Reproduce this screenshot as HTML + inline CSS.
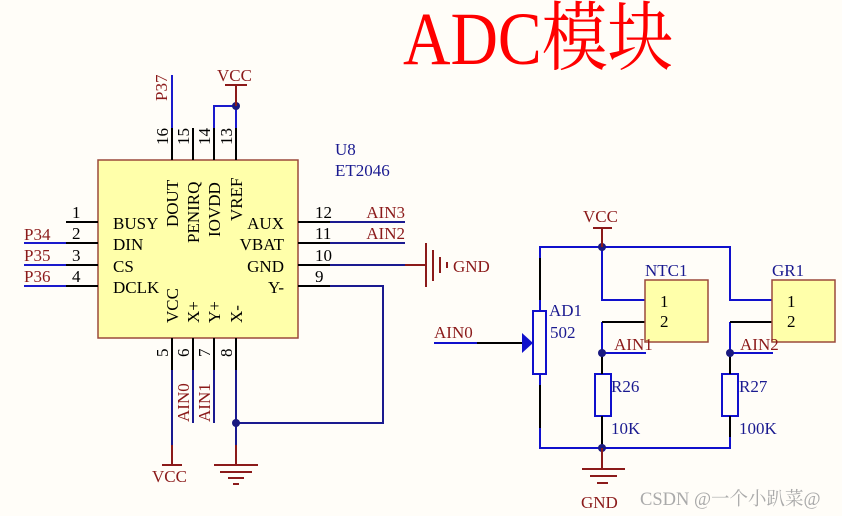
<!DOCTYPE html>
<html><head><meta charset="utf-8"><style>
html,body{margin:0;padding:0;background:#FFFDF8;}
svg{display:block;}
text{font-family:"Liberation Serif","Noto Serif CJK SC",serif;}
</style></head><body>
<svg width="842" height="516" viewBox="0 0 842 516" xmlns="http://www.w3.org/2000/svg">
<rect width="842" height="516" fill="#FFFDF8"/>
<!-- Title -->
<text transform="translate(403,64) scale(1.06,1.22)" font-size="62" fill="#FF0000" font-family="Liberation Serif, Noto Serif CJK SC, serif">ADC模块</text>

<!-- IC -->
<rect x="98" y="160" width="200" height="178" fill="#FFFFAA" stroke="#9B4A3A" stroke-width="1.5"/>
<g stroke="#000" stroke-width="2">
 <line x1="172" y1="160" x2="172" y2="128"/><line x1="193" y1="160" x2="193" y2="128"/>
 <line x1="214" y1="160" x2="214" y2="128"/><line x1="236" y1="160" x2="236" y2="128"/>
 <line x1="66" y1="222" x2="98" y2="222"/><line x1="66" y1="243" x2="98" y2="243"/>
 <line x1="66" y1="265" x2="98" y2="265"/><line x1="66" y1="286" x2="98" y2="286"/>
 <line x1="298" y1="222" x2="330" y2="222"/><line x1="298" y1="243" x2="330" y2="243"/>
 <line x1="298" y1="265" x2="330" y2="265"/><line x1="298" y1="286" x2="330" y2="286"/>
 <line x1="172" y1="338" x2="172" y2="370"/><line x1="193" y1="338" x2="193" y2="370"/>
 <line x1="214" y1="338" x2="214" y2="370"/><line x1="236" y1="338" x2="236" y2="370"/>
</g>
<g stroke="#1a1acc" stroke-width="2" fill="none">
 <line x1="172" y1="128" x2="172" y2="75"/>
 <polyline points="214,128 214,106 236,106 236,128"/>
 <line x1="24" y1="243" x2="66" y2="243"/><line x1="24" y1="265" x2="66" y2="265"/><line x1="24" y1="286" x2="66" y2="286"/>
</g>
<g stroke="#1a1a90" stroke-width="2" fill="none">
 <line x1="330" y1="222" x2="405" y2="222"/><line x1="330" y1="243" x2="405" y2="243"/>
 <line x1="330" y1="265" x2="405" y2="265"/>
 <polyline points="330,286 383,286 383,423 236,423"/>
 <line x1="172" y1="370" x2="172" y2="445"/><line x1="193" y1="370" x2="193" y2="423"/>
 <line x1="214" y1="370" x2="214" y2="423"/><line x1="236" y1="370" x2="236" y2="445"/>
</g>
<circle cx="236" cy="106" r="4" fill="#1a1a80"/>
<circle cx="236" cy="423" r="4" fill="#1a1a80"/>
<g stroke="#8B1A1A" stroke-width="2">
 <line x1="236" y1="106" x2="236" y2="85"/><line x1="225" y1="85" x2="247" y2="85"/>
 <line x1="405" y1="265" x2="426" y2="265"/>
 <line x1="426" y1="243" x2="426" y2="287"/><line x1="433" y1="250" x2="433" y2="281"/>
 <line x1="440" y1="257" x2="440" y2="273"/><line x1="447" y1="262" x2="447" y2="268"/>
 <line x1="172" y1="445" x2="172" y2="465"/><line x1="162" y1="465" x2="182" y2="465"/>
 <line x1="236" y1="445" x2="236" y2="465"/>
 <line x1="214" y1="465" x2="258" y2="465"/><line x1="220" y1="472" x2="252" y2="472"/>
 <line x1="228" y1="478" x2="244" y2="478"/><line x1="233" y1="484" x2="239" y2="484"/>
</g>
<g font-size="17" fill="#8B1A1A">
 <text x="217" y="81">VCC</text>
 <text x="453" y="272">GND</text>
 <text x="152" y="482">VCC</text>
 <text transform="translate(167,101) rotate(-90)">P37</text>
 <text x="24" y="240">P34</text><text x="24" y="261">P35</text><text x="24" y="282">P36</text>
 <text x="405" y="218" text-anchor="end">AIN3</text><text x="405" y="239" text-anchor="end">AIN2</text>
 <text transform="translate(189,422) rotate(-90)">AIN0</text>
 <text transform="translate(210,422) rotate(-90)">AIN1</text>
</g>
<g font-size="17" fill="#000">
 <text x="72" y="218">1</text><text x="72" y="239">2</text><text x="72" y="261">3</text><text x="72" y="282">4</text>
 <text x="315" y="218">12</text><text x="315" y="239">11</text><text x="315" y="261">10</text><text x="315" y="282">9</text>
 <text transform="translate(168,145) rotate(-90)">16</text><text transform="translate(189,145) rotate(-90)">15</text>
 <text transform="translate(210,145) rotate(-90)">14</text><text transform="translate(232,145) rotate(-90)">13</text>
 <text transform="translate(168,357) rotate(-90)">5</text><text transform="translate(189,357) rotate(-90)">6</text>
 <text transform="translate(210,357) rotate(-90)">7</text><text transform="translate(232,357) rotate(-90)">8</text>
 <text x="113" y="229">BUSY</text><text x="113" y="250">DIN</text><text x="113" y="272">CS</text><text x="113" y="293">DCLK</text>
 <text x="284" y="229" text-anchor="end">AUX</text><text x="284" y="250" text-anchor="end">VBAT</text>
 <text x="284" y="272" text-anchor="end">GND</text><text x="284" y="293" text-anchor="end">Y-</text>
 <text transform="translate(178,227) rotate(-90)">DOUT</text><text transform="translate(199,243) rotate(-90)">PENIRQ</text>
 <text transform="translate(220,237) rotate(-90)">IOVDD</text><text transform="translate(242,221) rotate(-90)">VREF</text>
 <text transform="translate(178,323) rotate(-90)">VCC</text><text transform="translate(199,323) rotate(-90)">X+</text>
 <text transform="translate(220,323) rotate(-90)">Y+</text><text transform="translate(242,323) rotate(-90)">X-</text>
</g>
<g font-size="17" fill="#1a1a90">
 <text x="335" y="155">U8</text><text x="335" y="176">ET2046</text>
</g>

<!-- Right circuit -->
<g stroke="#1010CC" stroke-width="2" fill="none">
 <polyline points="540,258 540,247 730,247 730,300 772,300"/>
 <polyline points="602,247 602,300 645,300"/>
 <line x1="540" y1="300" x2="540" y2="311"/><line x1="540" y1="374" x2="540" y2="385"/>
 <polyline points="540,428 540,448 730,448 730,437"/>
 <polyline points="602,322 602,353 646,353"/>
 <polyline points="730,322 730,353 773,353"/>
 <line x1="434" y1="343" x2="477" y2="343"/>
 <rect x="533" y="311" width="13" height="63"/>
 <rect x="595" y="374" width="16" height="42"/>
 <rect x="722" y="374" width="16" height="42"/>
</g>
<g stroke="#000" stroke-width="2">
 <line x1="540" y1="258" x2="540" y2="300"/><line x1="540" y1="385" x2="540" y2="428"/>
 <line x1="477" y1="343" x2="523" y2="343"/>
 <line x1="602" y1="322" x2="645" y2="322"/><line x1="730" y1="322" x2="772" y2="322"/>
 <line x1="602" y1="353" x2="602" y2="374"/><line x1="602" y1="416" x2="602" y2="448"/>
 <line x1="730" y1="353" x2="730" y2="374"/><line x1="730" y1="416" x2="730" y2="437"/>
</g>
<polygon points="522,333 533,343 522,353" fill="#1010CC"/>
<rect x="645" y="280" width="63" height="62" fill="#FFFFAA" stroke="#9B4A3A" stroke-width="1.5"/>
<rect x="772" y="280" width="63" height="62" fill="#FFFFAA" stroke="#9B4A3A" stroke-width="1.5"/>
<circle cx="602" cy="247" r="4" fill="#1a1a80"/><circle cx="602" cy="448" r="4" fill="#1a1a80"/>
<circle cx="602" cy="353" r="4" fill="#1a1a80"/><circle cx="730" cy="353" r="4" fill="#1a1a80"/>
<g stroke="#8B1A1A" stroke-width="2">
 <line x1="602" y1="247" x2="602" y2="228"/><line x1="593" y1="228" x2="612" y2="228"/>
 <line x1="602" y1="448" x2="602" y2="469"/>
 <line x1="582" y1="469" x2="625" y2="469"/><line x1="590" y1="476" x2="617" y2="476"/>
 <line x1="597" y1="483" x2="608" y2="483"/>
</g>
<g font-size="17" fill="#8B1A1A">
 <text x="583" y="222">VCC</text><text x="581" y="508">GND</text>
 <text x="434" y="338">AIN0</text><text x="614" y="350">AIN1</text><text x="740" y="350">AIN2</text>
</g>
<g font-size="17" fill="#1a1a90">
 <text x="549" y="316">AD1</text><text x="550" y="338">502</text>
 <text x="645" y="276">NTC1</text><text x="772" y="276">GR1</text>
 <text x="611" y="392">R26</text><text x="611" y="434">10K</text>
 <text x="739" y="392">R27</text><text x="739" y="434">100K</text>
</g>
<g font-size="17" fill="#000">
 <text x="660" y="307">1</text><text x="660" y="327">2</text>
 <text x="787" y="307">1</text><text x="787" y="327">2</text>
</g>
<text x="640" y="505" font-size="18.5" fill="#aaaaaa" font-family="Liberation Sans, Noto Sans CJK SC, sans-serif">CSDN @一个小趴菜@</text>
</svg>
</body></html>
